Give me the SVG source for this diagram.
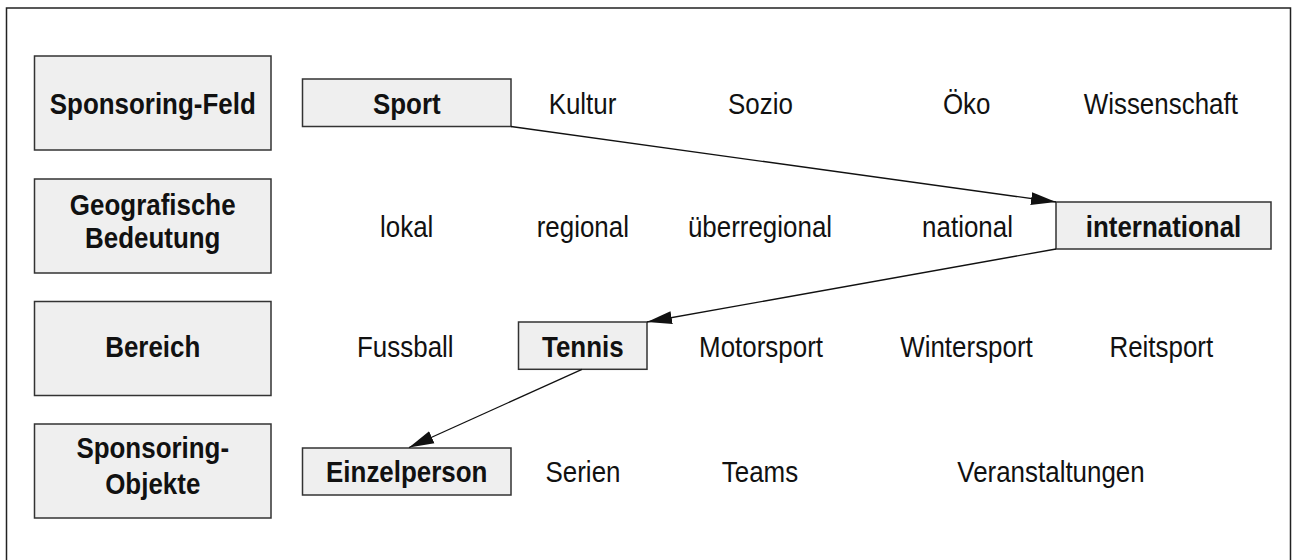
<svg xmlns="http://www.w3.org/2000/svg" width="1292" height="560" viewBox="0 0 1292 560">
  <style>
    text { font-family: "Liberation Sans", Arial, sans-serif; font-size: 30px; fill: #111; text-anchor: middle; }
    .b { font-weight: bold; }
    .box { fill: #efefef; stroke: #333; stroke-width: 1.5; }
    .link { stroke: #111; stroke-width: 1.3; fill: none; marker-end: url(#arrow); }
  </style>
  <defs>
    <marker id="arrow" markerUnits="userSpaceOnUse" markerWidth="27" markerHeight="14" refX="25" refY="7" orient="auto">
      <path d="M0,0.5 L25,7 L0,13.5 Z" fill="#111"/>
    </marker>
  </defs>

  <rect x="0" y="0" width="1292" height="560" fill="#fff"/>
  <!-- outer frame -->
  <rect x="6.5" y="8" width="1284" height="600" fill="none" stroke="#222" stroke-width="1.5"/>

  <!-- labels use a condensed width: each text is placed by translate and narrowed by scale -->
  <!-- row headers -->
  <g id="hdr-feld">
    <rect class="box" x="34.5" y="56" width="236.5" height="94"/>
    <text class="b" transform="translate(152.75,114) scale(0.865,1)">Sponsoring-Feld</text>
  </g>
  <g id="hdr-geo">
    <rect class="box" x="34.5" y="179" width="236.5" height="94"/>
    <text class="b" transform="translate(152.75,215) scale(0.865,1)">Geografische</text>
    <text class="b" transform="translate(152.75,248) scale(0.865,1)">Bedeutung</text>
  </g>
  <g id="hdr-bereich">
    <rect class="box" x="34.5" y="301.5" width="236.5" height="94"/>
    <text class="b" transform="translate(152.75,357) scale(0.865,1)">Bereich</text>
  </g>
  <g id="hdr-objekte">
    <rect class="box" x="34.5" y="424" width="236.5" height="94"/>
    <text class="b" transform="translate(152.75,458) scale(0.865,1)">Sponsoring-</text>
    <text class="b" transform="translate(152.75,494) scale(0.865,1)">Objekte</text>
  </g>

  <!-- row 1: Sponsoring-Feld -->
  <g id="sport">
    <rect class="box" x="302.5" y="79" width="208.5" height="47.5"/>
    <text class="b" transform="translate(406.75,114) scale(0.865,1)">Sport</text>
  </g>
  <g id="kultur"><text transform="translate(582.5,114) scale(0.865,1)">Kultur</text></g>
  <g id="sozio"><text transform="translate(760.5,114) scale(0.865,1)">Sozio</text></g>
  <g id="oeko"><text transform="translate(966.7,114) scale(0.865,1)">Öko</text></g>
  <g id="wissenschaft"><text transform="translate(1160.8,114) scale(0.865,1)">Wissenschaft</text></g>

  <!-- row 2: geografische Bedeutung -->
  <g id="lokal"><text transform="translate(406.7,237) scale(0.865,1)">lokal</text></g>
  <g id="regional"><text transform="translate(582.8,237) scale(0.865,1)">regional</text></g>
  <g id="ueberregional"><text transform="translate(760,237) scale(0.865,1)">überregional</text></g>
  <g id="national"><text transform="translate(967.5,237) scale(0.865,1)">national</text></g>
  <g id="international">
    <rect class="box" x="1056" y="202" width="215" height="47"/>
    <text class="b" transform="translate(1163.5,237) scale(0.865,1)">international</text>
  </g>

  <!-- row 3: Bereich -->
  <g id="fussball"><text transform="translate(405.3,357) scale(0.865,1)">Fussball</text></g>
  <g id="tennis">
    <rect class="box" x="518.5" y="322" width="128.5" height="47.3"/>
    <text class="b" transform="translate(582.8,357) scale(0.865,1)">Tennis</text>
  </g>
  <g id="motorsport"><text transform="translate(761,357) scale(0.865,1)">Motorsport</text></g>
  <g id="wintersport"><text transform="translate(966.5,357) scale(0.865,1)">Wintersport</text></g>
  <g id="reitsport"><text transform="translate(1161.3,357) scale(0.865,1)">Reitsport</text></g>

  <!-- row 4: Sponsoring-Objekte -->
  <g id="einzelperson">
    <rect class="box" x="302.5" y="448" width="208.5" height="47"/>
    <text class="b" transform="translate(406.75,481.5) scale(0.865,1)">Einzelperson</text>
  </g>
  <g id="serien"><text transform="translate(583,481.5) scale(0.865,1)">Serien</text></g>
  <g id="teams"><text transform="translate(760,481.5) scale(0.865,1)">Teams</text></g>
  <g id="veranstaltungen"><text transform="translate(1051,481.5) scale(0.865,1)">Veranstaltungen</text></g>

  <!-- connectors -->
  <g id="connectors">
    <line class="link" x1="511" y1="126.5" x2="1056" y2="202"/>
    <line class="link" x1="1056" y1="249" x2="647" y2="322"/>
    <line class="link" x1="582" y1="369.3" x2="409" y2="447.5"/>
  </g>
</svg>
